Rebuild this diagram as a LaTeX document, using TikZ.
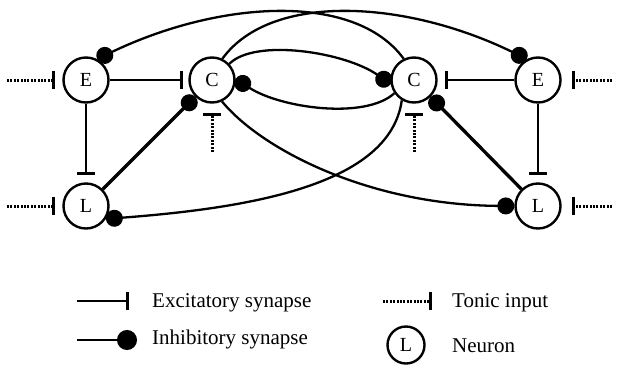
\documentclass[tikz,border=0pt]{standalone}
\usepackage{fontspec}
\setmainfont{Liberation Serif}
\usetikzlibrary{arrows.meta}
\begin{document}
\begin{tikzpicture}[x=1pt,y=-1pt,
  neuron/.style={circle,draw,line width=2.4pt,minimum size=45pt,inner sep=0pt,font=\fontsize{20}{20}\selectfont},
  conn/.style={line width=2.3pt},
  exc/.style={conn,-{Bar[width=18pt,line width=3pt]},shorten >=7pt},
  inh/.style={conn,-{Circle[length=17pt]}},
  tonic/.style={line width=3pt,dash pattern=on 2pt off 1.4pt,-{Bar[width=18pt,line width=3pt]},shorten >=7pt},
  lbl/.style={anchor=base west,font=\fontsize{21}{21}\selectfont,inner sep=0pt}
]
\useasboundingbox (0,0) rectangle (617,370);

% neurons
\node[neuron] (EL) at (86,80) {E};
\node[neuron] (CL) at (212,80) {C};
\node[neuron] (LL) at (86,206) {L};
\node[neuron] (CR) at (414,80) {C};
\node[neuron] (ER) at (538,80) {E};
\node[neuron] (LR) at (538,206) {L};

% tonic input free ends
\coordinate (tEL) at (7,80);
\coordinate (tLL) at (7,206);
\coordinate (tCL) at (212,152);
\coordinate (tCR) at (414,152);
\coordinate (tER) at (612,80);
\coordinate (tLR) at (612,206);

\draw[tonic] (tEL) -- (EL);
\draw[tonic] (tLL) -- (LL);
\draw[tonic,shorten >=9pt] (tCL) -- (CL);
\draw[tonic,shorten >=9pt] (tCR) -- (CR);
\draw[tonic,shorten >=10pt] (tER) -- (ER);
\draw[tonic,shorten >=10pt] (tLR) -- (LR);

% excitatory synapses
\draw[exc,shorten >=5pt] (EL) -- (CL);
\draw[exc] (EL) -- (LL);
\draw[exc] (ER) -- (CR);
\draw[exc] (ER) -- (LR);

% inhibitory synapses
\draw[inh,line width=3.3pt] (LL) -- (CL);
\draw[inh,line width=3.3pt] (LR) -- (CR);
\draw[inh] (CR.116) .. controls (355,-8) and (220,0) .. (EL.62);
\draw[inh] (CL.64) .. controls (271,-8) and (406,0) .. (ER.118);
\draw[inh] (CL.43) .. controls (255,38) and (345,52) .. (CR.190);
\draw[inh] (CR.214) .. controls (365,120) and (280,108) .. (CL.3);
\draw[inh] (CL.-65) .. controls (262,150) and (370,205) .. (LR.west);
\draw[inh] (CR.-121) .. controls (390,185) and (250,208) .. (LL.-33);

% legend
\coordinate (lgEa) at (77,301);
\coordinate (lgEb) at (129,301);
\draw[conn,-{Bar[width=18pt,line width=3pt]}] (lgEa) -- (lgEb);
\coordinate (lgIa) at (77,340);
\coordinate (lgIb) at (137,340);
\draw[conn,-{Circle[length=20pt]}] (lgIa) -- (lgIb);
\coordinate (lgTa) at (383,301);
\coordinate (lgTb) at (432,301);
\draw[tonic,shorten >=0pt] (lgTa) -- (lgTb);
\node[neuron,minimum size=37pt] (lgN) at (406,345) {L};

\node[lbl] (tE) at (152,307) {Excitatory synapse};
\node[lbl] (tI) at (152,344) {Inhibitory synapse};
\node[lbl] (tT) at (452,307) {Tonic input};
\node[lbl] (tN) at (452,352) {Neuron};
\end{tikzpicture}
\end{document}
